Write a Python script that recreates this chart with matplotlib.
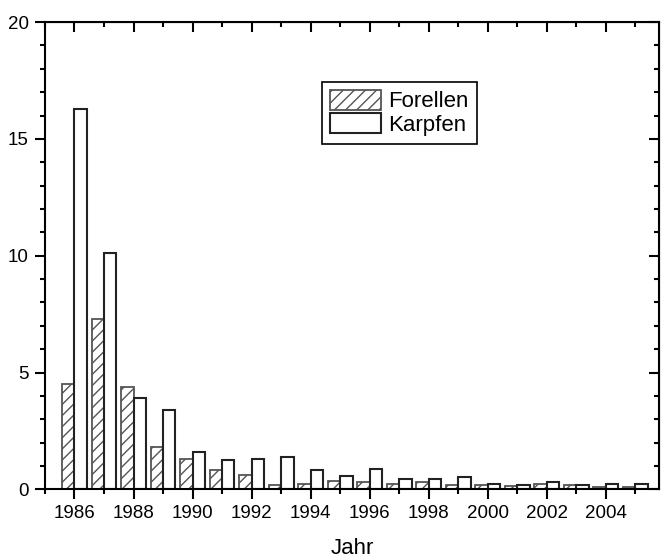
import matplotlib
matplotlib.use("Agg")
import matplotlib.pyplot as plt
from matplotlib.ticker import MultipleLocator
import numpy as np

plt.rcParams['font.family'] = ['Liberation Sans', 'DejaVu Sans']
plt.rcParams['hatch.linewidth'] = 1.0
plt.rcParams['hatch.color'] = '#555555'

years = list(range(1986, 2006))
forellen = [4.5, 7.3, 4.4, 1.8, 1.3, 0.83, 0.6, 0.2, 0.22, 0.38, 0.33, 0.22, 0.3,
            0.17, 0.17, 0.15, 0.25, 0.19, 0.12, 0.11]
karpfen = [16.3, 10.1, 3.9, 3.4, 1.6, 1.27, 1.28, 1.38, 0.82, 0.58, 0.88, 0.45, 0.45,
           0.55, 0.25, 0.17, 0.31, 0.19, 0.23, 0.25]
series_labels = ["Forellen", "Karpfen"]
x_label = "Jahr"

fig = plt.figure(figsize=(6.61, 5.59), dpi=100)
ax = fig.add_axes([0.068, 0.1245, 0.929, 0.836])

x = np.array(years, dtype=float)
w = 0.42
ax.bar(x - w / 2, forellen, width=w, facecolor='white', edgecolor='#555555',
       hatch='///', linewidth=1.3, label=series_labels[0])
ax.bar(x + w / 2, karpfen, width=w, facecolor='white', edgecolor='#222222',
       linewidth=1.5, label=series_labels[1])

ax.set_xlim(1985.0, 2005.8)
ax.set_ylim(0, 20)
ax.xaxis.set_major_locator(MultipleLocator(2))
ax.xaxis.set_minor_locator(MultipleLocator(1))
ax.yaxis.set_major_locator(MultipleLocator(5))
ax.yaxis.set_minor_locator(MultipleLocator(1))
ax.set_xticks(range(1986, 2005, 2))

for sp in ax.spines.values():
    sp.set_linewidth(1.5)
    sp.set_color('black')

ax.tick_params(which='both', direction='out', bottom=True, left=True,
               top=False, right=False, width=1.5, labelsize=13.5)
ax.tick_params(which='major', length=7.5, pad=4)
ax.tick_params(which='minor', length=3.8)

# inward ticks on the top and right frame
ax2 = ax.secondary_xaxis('top')
ax2.xaxis.set_major_locator(MultipleLocator(2))
ax2.xaxis.set_minor_locator(MultipleLocator(1))
ax2.set_xticks(range(1986, 2005, 2))
ax2.tick_params(which='both', direction='in', width=1.5, labeltop=False)
ax2.tick_params(which='major', length=7.5)
ax2.tick_params(which='minor', length=3.8)
ax3 = ax.secondary_yaxis('right')
ax3.yaxis.set_major_locator(MultipleLocator(5))
ax3.yaxis.set_minor_locator(MultipleLocator(1))
ax3.tick_params(which='both', direction='in', width=1.5, labelright=False)
ax3.tick_params(which='major', length=7.5)
ax3.tick_params(which='minor', length=3.8)

ax.set_xlabel(x_label, fontsize=16, labelpad=11)

leg = ax.legend(loc='upper left', bbox_to_anchor=(0.451, 0.872), fontsize=16,
                frameon=True, fancybox=False, edgecolor='black', framealpha=1,
                borderpad=0.35, handlelength=2.3, handleheight=1.0,
                handletextpad=0.35, labelspacing=0.05, borderaxespad=0)
leg.get_frame().set_linewidth(1.2)

fig.savefig("out.png", dpi=100)
